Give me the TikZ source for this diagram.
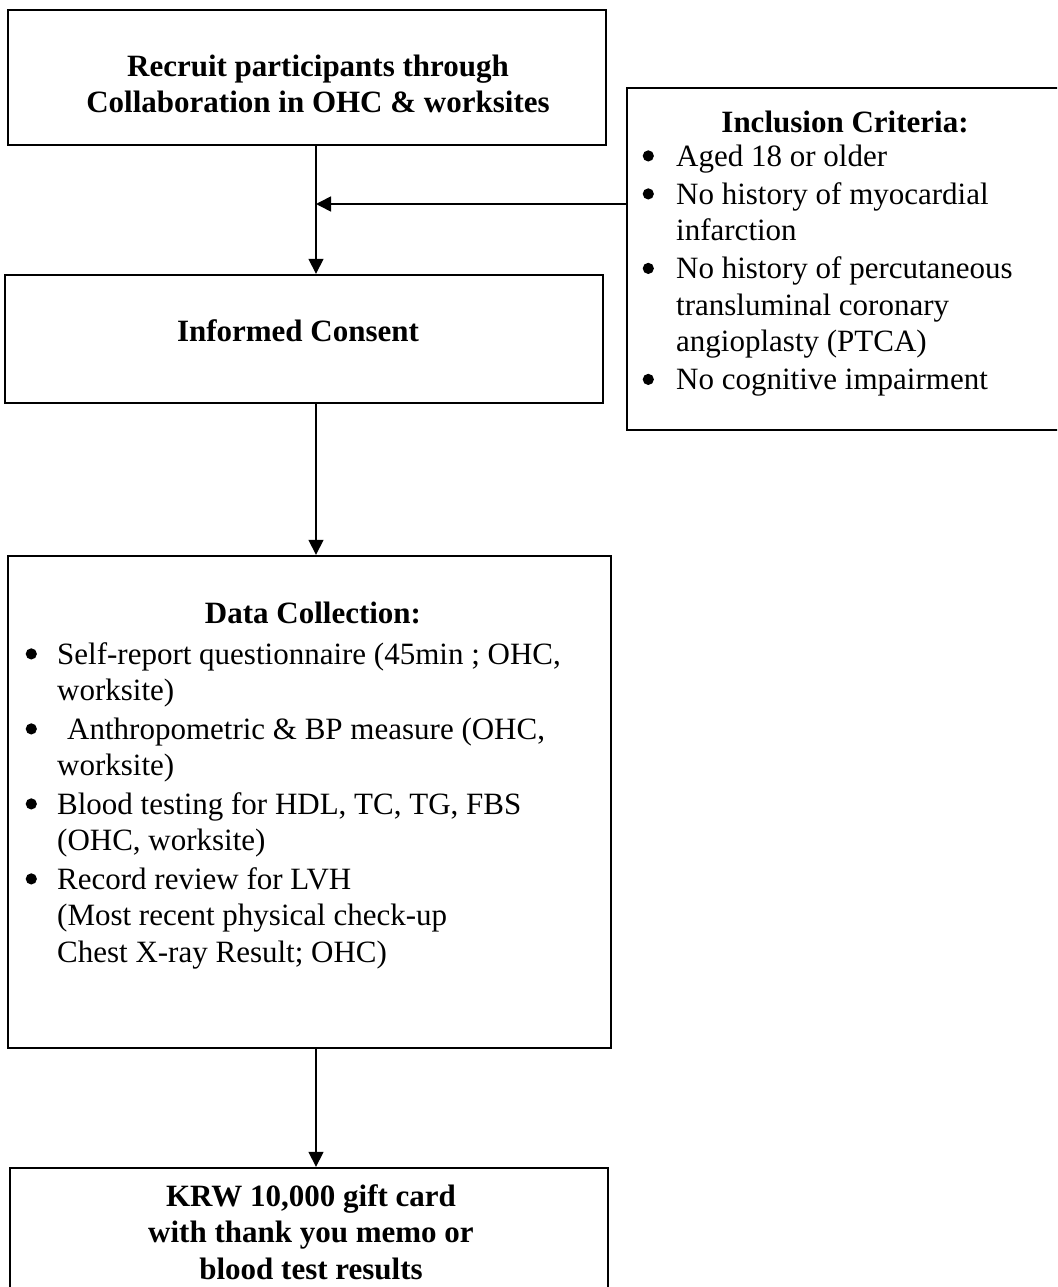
\documentclass[tikz,border=0pt]{standalone}
\usepackage{fontspec}
\setmainfont{Liberation Serif}
\usetikzlibrary{arrows.meta}
\newcommand{\bodysize}{\fontsize{31}{36.5}\selectfont}
% round list bullet, its centre about 10pt above the baseline
\newcommand{\bl}{\hspace*{2.5pt}\raisebox{4.5pt}{\tikz\fill (0,0) circle (5.6pt);}}
\begin{document}
\begin{tikzpicture}[x=1pt,y=-1pt,
  boxstyle/.style={draw,line width=2.4pt,inner sep=0pt},
  arr/.style={line width=1.6pt,-{Triangle[length=15pt,width=15pt]}},
  headtext/.style={font=\bodysize\bfseries,align=center,inner sep=0pt},
  listtext/.style={font=\bodysize,align=left,inner sep=0pt,anchor=base west}]
\clip (0,0) rectangle (1057,1287);
\fill[white] (0,0) rectangle (1057,1287);

% boxes
\node[boxstyle,minimum width=598pt,minimum height=135pt] (recruit) at (307,77.5) {};
\node[boxstyle,minimum width=440pt,minimum height=342pt] (incl) at (847,259) {};
\node[boxstyle,minimum width=598pt,minimum height=128pt] (consent) at (304,339) {};
\node[boxstyle,minimum width=603pt,minimum height=492pt] (data) at (309.5,802) {};
\node[boxstyle,minimum width=598pt,minimum height=140pt] (krw) at (309,1238) {};

% texts
\node[headtext] (recruittxt) at (318,84) {Recruit participants through\\Collaboration in OHC \& worksites};
\node[headtext,anchor=base] (incltitle) at (845,132) {Inclusion Criteria:};
\node[listtext] (incllist) at (640,166) {%
  \begin{tabular}[t]{@{}p{36pt}@{}l@{}}
  \bl & Aged 18 or older\\[1.5pt]
  \bl & No history of myocardial\\
      & infarction\\[1.5pt]
  \bl & No history of percutaneous\\
      & transluminal coronary\\
      & angioplasty (PTCA)\\[1.5pt]
  \bl & No cognitive impairment
  \end{tabular}};
\node[headtext] (consenttxt) at (298,331) {Informed Consent};
\node[headtext,anchor=base] (datatitle) at (313,623) {Data Collection:};
\node[listtext] (datalist) at (23,664) {%
  \begin{tabular}[t]{@{}p{34pt}@{}l@{}}
  \bl & Self-report questionnaire (45min ; OHC,\\
      & worksite)\\[2pt]
  \bl & \hspace{10pt}Anthropometric \& BP measure (OHC,\\
      & worksite)\\[2pt]
  \bl & Blood testing for HDL, TC, TG, FBS\\
      & (OHC, worksite)\\[2pt]
  \bl & Record review for LVH\\
      & (Most recent physical check-up\\
      & Chest X-ray Result; OHC)
  \end{tabular}};
\node[headtext] (krwtxt) at (311,1232) {KRW 10,000 gift card\\with thank you memo or\\blood test results};

% connectors
\coordinate (spine) at (316,0);
\coordinate (join) at (316,204);
\draw[arr] (recruit.south -| spine) -- (consent.north -| spine);
\draw[arr] (incl.west |- join) -- (join);
\draw[arr] (consent.south -| spine) -- (data.north -| spine);
\draw[arr] (data.south -| spine) -- (krw.north -| spine);
\end{tikzpicture}
\end{document}
